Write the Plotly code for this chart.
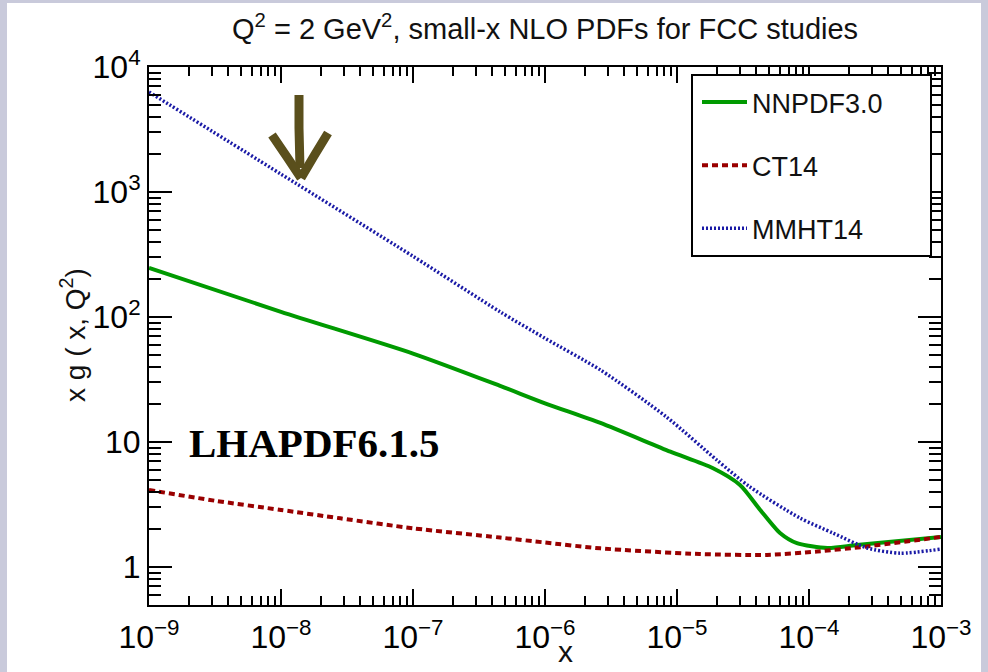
import plotly.graph_objects as go

# ---------------- data ----------------
x_nnpdf = [1e-9, 1e-8, 1e-7, 4.57e-7, 1e-6, 2.63e-6, 8.9e-6, 1.86e-5, 3.0e-5,
           4.27e-5, 6.03e-5, 8.1e-5, 1.38e-4, 2.3e-4, 1e-3]
y_nnpdf = [247, 110, 51.0, 28.1, 20.4, 14.2, 8.36, 6.19, 4.53,
           2.86, 1.87, 1.55, 1.42, 1.50, 1.74]

x_ct14 = [1e-9, 3.16e-9, 1e-8, 2.82e-8, 1e-7, 4.57e-7, 1e-6, 2.63e-6,
          1.48e-5, 4.8e-5, 1.15e-4, 2.75e-4, 1e-3]
y_ct14 = [4.13, 3.39, 2.86, 2.45, 2.04, 1.72, 1.57, 1.41,
          1.27, 1.25, 1.33, 1.46, 1.74]

x_mmht = [1e-9, 1e-8, 1e-7, 4.57e-7, 1e-6, 2.63e-6, 8.3e-6, 2.0e-5, 3.55e-5,
          8.5e-5, 1.52e-4, 2.75e-4, 4.9e-4, 1e-3]
y_mmht = [6310, 1390, 306, 110, 67.6, 37.7, 15.9, 7.18, 4.39,
          2.47, 1.87, 1.42, 1.29, 1.39]

x_major = [1e-9, 1e-8, 1e-7, 1e-6, 1e-5, 1e-4, 1e-3]
x_major_text = ["10<sup>−9</sup>", "10<sup>−8</sup>", "10<sup>−7</sup>", "10<sup>−6</sup>",
                "10<sup>−5</sup>", "10<sup>−4</sup>", "10<sup>−3</sup>"]
y_major = [1, 10, 100, 1000, 10000]
y_major_text = ["1", "10", "10<sup>2</sup>", "10<sup>3</sup>", "10<sup>4</sup>"]

x_minor = [k * 10.0 ** d for d in range(-9, -3) for k in range(2, 10)]
y_minor = [k * 10.0 ** d for d in range(-1, 4) for k in range(2, 10) if k * 10.0 ** d >= 0.5]

# ---------------- layout geometry (pixels) ----------------
W, H = 988, 672
L, R, T, B = 149, 941, 67, 605


def px(x):
    return (x - L) / (R - L)


def py(y):
    return (B - y) / (B - T)


FONT = "Liberation Sans, Arial, Helvetica, sans-serif"

fig = go.Figure()
fig.add_trace(go.Scatter(x=x_nnpdf, y=y_nnpdf, name="NNPDF3.0", mode="lines",
                         legendgroup="a",
                         line=dict(color="#009a00", width=4, shape="spline", smoothing=0.7)))
fig.add_trace(go.Scatter(x=x_ct14, y=y_ct14, name="CT14", mode="lines",
                         legendgroup="b",
                         line=dict(color="#990000", width=4, dash="6px,4px",
                                   shape="spline", smoothing=0.7)))
fig.add_trace(go.Scatter(x=x_mmht, y=y_mmht, name="MMHT14", mode="lines",
                         legendgroup="c",
                         line=dict(color="#1a1aa6", width=3.5, dash="2px,2px",
                                   shape="spline", smoothing=0.7)))

axis_common = dict(
    type="log", showgrid=False, zeroline=False, showline=True, linecolor="black",
    linewidth=2, mirror="ticks", ticks="inside", tickcolor="black", tickwidth=1.5,
    tickmode="array", tickfont=dict(family=FONT, size=32, color="black"),
)

fig.update_xaxes(**axis_common, range=[-9, -3], tickvals=x_major, ticktext=x_major_text,
                 ticklen=16, ticklabelstandoff=3,
                 minor=dict(tickmode="array", tickvals=x_minor, ticks="inside", ticklen=9,
                            tickcolor="black", tickwidth=1.5, showgrid=False))
fig.update_yaxes(**axis_common, range=[-0.304, 4.0], tickvals=y_major, ticktext=y_major_text,
                 ticklen=23, ticklabelstandoff=0,
                 minor=dict(tickmode="array", tickvals=y_minor, ticks="inside", ticklen=12,
                            tickcolor="black", tickwidth=1.5, showgrid=False))

shapes = [
    # white slide area
    dict(type="rect", xref="paper", yref="paper", layer="below",
         x0=px(7), x1=px(981), y0=py(H + 5), y1=py(3),
         fillcolor="white", line=dict(width=0)),
    # legend box
    dict(type="rect", xref="paper", yref="paper", layer="above",
         x0=px(692), x1=px(931), y0=py(256), y1=py(75),
         fillcolor="white", line=dict(color="black", width=2)),
]

# hand-drawn arrow
arrow_col = "#5a4f1c"
arrow_paths = [
    [(299, 95), (299, 128), (300, 168)],
    [(272, 135), (287, 157), (301, 178)],
    [(328, 133), (314, 156), (301, 178)],
]
for pts in arrow_paths:
    d = "M " + " L ".join(f"{px(a):.5f},{py(b):.5f}" for a, b in pts)
    shapes.append(dict(type="path", xref="paper", yref="paper", layer="above", path=d,
                       line=dict(color=arrow_col, width=9)))

annotations = [
    dict(text="Q<sup>2</sup> = 2 GeV<sup>2</sup>, small-x NLO PDFs for FCC studies",
         xref="paper", yref="paper", x=px(545), y=py(27), showarrow=False,
         xanchor="center", yanchor="middle", font=dict(family=FONT, size=29, color="#111")),
    dict(text="x g ( x, Q<sup>2</sup>)", xref="paper", yref="paper", x=px(73), y=py(335),
         textangle=-90, showarrow=False, xanchor="center", yanchor="middle",
         font=dict(family=FONT, size=28, color="#111")),
    dict(text="x", xref="paper", yref="paper", x=px(565), y=py(652), showarrow=False,
         xanchor="center", yanchor="middle", font=dict(family=FONT, size=30, color="#111")),
    dict(text="<b>LHAPDF6.1.5</b>", xref="paper", yref="paper", x=px(187), y=py(443),
         showarrow=False, xanchor="left", yanchor="middle",
         font=dict(family="Liberation Serif, Times New Roman, serif", size=41, color="black")),
]

fig.update_layout(
    width=W, height=H,
    margin=dict(l=L, r=W - R, t=T, b=H - B, pad=0),
    paper_bgcolor="#c9cadb", plot_bgcolor="white",
    shapes=shapes, annotations=annotations,
    showlegend=True,
    legend=dict(x=px(697), y=py(78), xanchor="left", yanchor="top",
                bgcolor="rgba(0,0,0,0)", borderwidth=0,
                font=dict(family=FONT, size=27, color="#111"),
                traceorder="grouped", tracegroupgap=25, itemwidth=45),
)

fig.write_html("out.html")
